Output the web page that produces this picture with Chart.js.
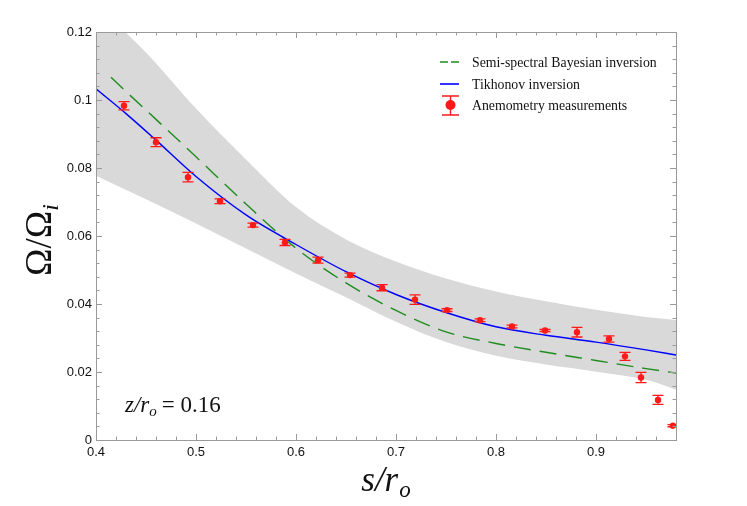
<!DOCTYPE html>
<html>
<head>
<meta charset="utf-8">
<script src="https://cdn.jsdelivr.net/npm/chart.js@4.4.1/dist/chart.umd.min.js"></script>
<style>
  html, body { margin: 0; padding: 0; background: #fff; }
  #wrap { width: 747px; height: 506px; position: relative; }
</style>
</head>
<body>
<div id="wrap"><canvas id="rotChart"></canvas></div>
<script>
// anemometry measurements with error bars
const sMeas = [0.428, 0.460, 0.492, 0.524, 0.557, 0.589, 0.622, 0.654, 0.686, 0.719,
  0.751, 0.784, 0.816, 0.849, 0.881, 0.913, 0.929, 0.945, 0.962, 0.977];
const omegaMeas = [0.0983, 0.0876, 0.0773, 0.0702, 0.0632, 0.0581, 0.0529, 0.0485, 0.0448, 0.0413,
  0.0382, 0.0352, 0.0334, 0.0322, 0.0317, 0.0297, 0.0246, 0.0184, 0.0118, 0.0042];
const omegaErr = [0.0012, 0.0013, 0.0014, 0.0007, 0.0006, 0.0009, 0.0009, 0.0006, 0.0009, 0.0014,
  0.0004, 0.0004, 0.0004, 0.0003, 0.0014, 0.0009, 0.0012, 0.0015, 0.0013, 0.0003];

// Tikhonov inversion
const sTikh = [0.4, 0.43, 0.46, 0.5, 0.55, 0.6, 0.65, 0.7, 0.75, 0.8, 0.85, 0.9, 0.95, 0.98];
const omegaTikh = [0.1033, 0.0960, 0.0882, 0.0775, 0.0662, 0.0575, 0.0495, 0.0428, 0.0375, 0.0333,
  0.0308, 0.0288, 0.0265, 0.0250];

// semi-spectral Bayesian inversion
const sBayes = [0.415, 0.43, 0.46, 0.5, 0.55, 0.6, 0.65, 0.7, 0.75, 0.8, 0.85, 0.9, 0.95, 0.98];
const omegaBayes = [0.1067, 0.1025, 0.0943, 0.0833, 0.0694, 0.0564, 0.0462, 0.0381, 0.0318, 0.0284,
  0.0258, 0.0234, 0.0210, 0.0197];

// uncertainty band
const sBand = [0.4, 0.45, 0.5, 0.55, 0.6, 0.65, 0.7, 0.75, 0.8, 0.85, 0.9, 0.95, 0.98];
const bandUpper = [0.128, 0.114, 0.0975, 0.0825, 0.0685, 0.059, 0.0525, 0.0475, 0.0437, 0.0408,
  0.0383, 0.0362, 0.0353];
const bandLower = [0.0777, 0.0708, 0.0637, 0.0563, 0.049, 0.042, 0.0348, 0.0288, 0.0248, 0.0222,
  0.0201, 0.0177, 0.0148];

const xTicks = [0.4, 0.5, 0.6, 0.7, 0.8, 0.9];
const yTicks = [0, 0.02, 0.04, 0.06, 0.08, 0.1, 0.12];
const legendLabels = ["Semi-spectral Bayesian inversion", "Tikhonov inversion", "Anemometry measurements"];

const RED = "#ff1a1a";
const BLUE = "#0000ff";
const GREEN = "#1e8c1e";

const toXY = (xs, ys) => xs.map((x, i) => ({ x: x, y: ys[i] }));

// draws a label like  main + subscript
function drawSub(ctx, x, y, parts) {
  let cx = x;
  parts.forEach(p => {
    ctx.font = p.font;
    ctx.fillText(p.text, cx, y + (p.dy || 0));
    cx += ctx.measureText(p.text).width + (p.gap || 0);
  });
}
function widthSub(ctx, parts) {
  let w = 0;
  parts.forEach(p => { ctx.font = p.font; w += ctx.measureText(p.text).width + (p.gap || 0); });
  return w;
}

const framePlugin = {
  id: "frame",
  afterDatasetsDraw(chart) {
    const { ctx, chartArea: a } = chart;
    const xs = chart.scales.x, ys = chart.scales.y;

    // error bars
    ctx.save();
    ctx.beginPath();
    ctx.rect(a.left, a.top, a.right - a.left, a.bottom - a.top);
    ctx.clip();
    ctx.strokeStyle = RED;
    ctx.lineWidth = 1.3;
    sMeas.forEach((s, i) => {
      const px = xs.getPixelForValue(s);
      const y1 = ys.getPixelForValue(omegaMeas[i] + omegaErr[i]);
      const y2 = ys.getPixelForValue(omegaMeas[i] - omegaErr[i]);
      ctx.beginPath();
      ctx.moveTo(px, y1); ctx.lineTo(px, y2);
      ctx.moveTo(px - 5.5, y1); ctx.lineTo(px + 5.5, y1);
      ctx.moveTo(px - 5.5, y2); ctx.lineTo(px + 5.5, y2);
      ctx.stroke();
    });
    ctx.restore();

    // frame with inward ticks
    ctx.save();
    ctx.strokeStyle = "#9a9a9a";
    ctx.lineWidth = 1;
    ctx.strokeRect(a.left + 0.5, a.top + 0.5, a.right - a.left, a.bottom - a.top);
    ctx.beginPath();
    for (let k = 20; k <= 49; k++) {
      const px = Math.round(xs.getPixelForValue(k / 50)) + 0.5;
      const len = k % 5 === 0 ? 6 : 3.5;
      ctx.moveTo(px, a.bottom); ctx.lineTo(px, a.bottom - len);
      ctx.moveTo(px, a.top); ctx.lineTo(px, a.top + len);
    }
    for (let k = 0; k <= 30; k++) {
      const py = Math.round(ys.getPixelForValue(k * 0.004)) + 0.5;
      const len = k % 5 === 0 ? 6 : 3.5;
      ctx.moveTo(a.left, py); ctx.lineTo(a.left + len, py);
      ctx.moveTo(a.right, py); ctx.lineTo(a.right - len, py);
    }
    ctx.stroke();
    ctx.restore();
  },
  afterDraw(chart) {
    const { ctx, chartArea: a } = chart;
    ctx.save();
    ctx.fillStyle = "#111";
    ctx.textBaseline = "alphabetic";

    // y title
    const yParts = [
      { text: "\u03A9/\u03A9", font: "37px 'Liberation Serif'" },
      { text: "i", font: "italic 24px 'Liberation Serif'", dy: 7 }
    ];
    ctx.translate(51, (a.top + a.bottom) / 2 + 4);
    ctx.rotate(-Math.PI / 2);
    drawSub(ctx, -widthSub(ctx, yParts) / 2, 0, yParts);
    ctx.setTransform(1, 0, 0, 1, 0, 0);
    ctx.restore();

    ctx.save();
    ctx.fillStyle = "#111";
    // x title
    const xParts = [
      { text: "s/r", font: "italic 35px 'Liberation Serif'", gap: 1 },
      { text: "o", font: "italic 23px 'Liberation Serif'", dy: 6 }
    ];
    drawSub(ctx, (a.left + a.right) / 2 - widthSub(ctx, xParts) / 2, 491, xParts);

    // annotation
    drawSub(ctx, 125, 412, [
      { text: "z/r", font: "italic 23px 'Liberation Serif'" },
      { text: "o", font: "italic 15px 'Liberation Serif'", dy: 4, gap: 5 },
      { text: "= 0.16", font: "23px 'Liberation Serif'" }
    ]);

    // legend
    const lx = 472, rows = [62, 84, 105];
    ctx.font = "13.8px 'Liberation Serif'";
    ctx.textBaseline = "middle";
    legendLabels.forEach((t, i) => ctx.fillText(t, lx, rows[i] + 1));

    ctx.lineWidth = 1.6;
    ctx.strokeStyle = GREEN;
    ctx.setLineDash([8, 3]);
    ctx.beginPath(); ctx.moveTo(440, rows[0]); ctx.lineTo(459, rows[0]); ctx.stroke();
    ctx.setLineDash([]);
    ctx.strokeStyle = BLUE;
    ctx.beginPath(); ctx.moveTo(440, rows[1]); ctx.lineTo(459, rows[1]); ctx.stroke();

    ctx.strokeStyle = RED;
    ctx.fillStyle = RED;
    ctx.lineWidth = 1.4;
    ctx.beginPath();
    ctx.moveTo(450.5, rows[2] - 9); ctx.lineTo(450.5, rows[2] + 10);
    ctx.moveTo(442, rows[2] - 9); ctx.lineTo(459, rows[2] - 9);
    ctx.moveTo(442, rows[2] + 10); ctx.lineTo(459, rows[2] + 10);
    ctx.stroke();
    ctx.beginPath(); ctx.arc(450.5, rows[2], 5, 0, Math.PI * 2); ctx.fill();
    ctx.restore();
  }
};

const tickFont = { family: "'Liberation Sans', Arial, sans-serif", size: 13 };

new Chart(document.getElementById("rotChart"), {
  type: "line",
  data: {
    datasets: [
      {
        label: legendLabels[2],
        data: toXY(sMeas, omegaMeas),
        showLine: false,
        pointRadius: 3.2,
        pointBackgroundColor: RED,
        pointBorderWidth: 0,
      },
      {
        label: legendLabels[1],
        data: toXY(sTikh, omegaTikh),
        borderColor: BLUE,
        borderWidth: 1.4,
        pointRadius: 0,
        cubicInterpolationMode: "monotone",
        fill: false,
      },
      {
        label: legendLabels[0],
        data: toXY(sBayes, omegaBayes),
        borderColor: GREEN,
        borderWidth: 1.4,
        borderDash: [17, 9],
        pointRadius: 0,
        cubicInterpolationMode: "monotone",
        fill: false,
      },
      {
        label: "upper",
        data: toXY(sBand, bandUpper),
        borderWidth: 0,
        borderColor: "rgba(0,0,0,0)",
        backgroundColor: "#d9d9d9",
        pointRadius: 0,
        cubicInterpolationMode: "monotone",
        fill: "+1",
      },
      {
        label: "lower",
        data: toXY(sBand, bandLower),
        borderWidth: 0,
        borderColor: "rgba(0,0,0,0)",
        pointRadius: 0,
        cubicInterpolationMode: "monotone",
        fill: false,
      },
    ],
  },
  options: {
    responsive: true,
    maintainAspectRatio: false,
    animation: false,
    layout: { padding: { top: 32, right: 71, left: 0, bottom: 0 } },
    scales: {
      x: {
        type: "linear",
        min: 0.4,
        max: 0.98,
        afterBuildTicks: s => { s.ticks = xTicks.map(v => ({ value: v })); },
        afterFit: s => { s.height = 66; },
        grid: { display: false, drawTicks: false },
        border: { display: false },
        ticks: {
          font: tickFont, color: "#111", padding: 5,
          maxRotation: 0, autoSkip: false,
          callback: v => String(Number(v.toFixed(2))),
        },
      },
      y: {
        type: "linear",
        min: 0,
        max: 0.12,
        afterBuildTicks: s => { s.ticks = yTicks.map(v => ({ value: v })); },
        afterFit: s => { s.width = 96; },
        grid: { display: false, drawTicks: false },
        border: { display: false },
        ticks: {
          font: tickFont, color: "#111", padding: 4,
          autoSkip: false,
          callback: v => String(Number(v.toFixed(2))),
        },
      },
    },
    plugins: {
      legend: { display: false },
      tooltip: { enabled: false },
    },
  },
  plugins: [framePlugin],
});
</script>
</body>
</html>
